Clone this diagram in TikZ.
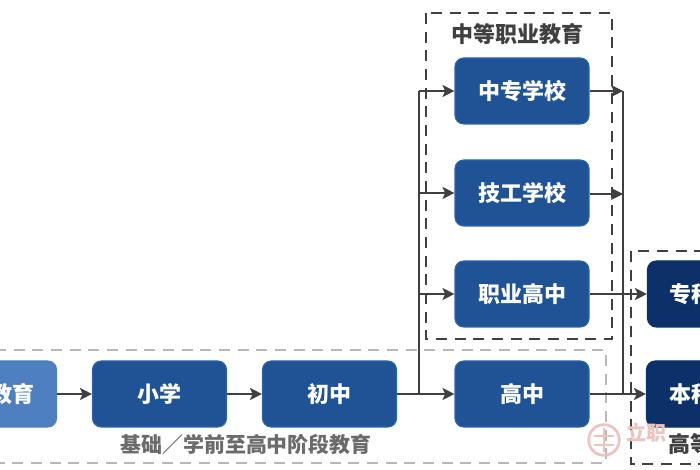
\documentclass[tikz,border=0pt]{standalone}
\usepackage{fontspec}
\setmainfont{Noto Sans CJK SC}
\usetikzlibrary{arrows.meta}
\definecolor{midblue}{HTML}{1F5396}
\definecolor{midedge}{HTML}{2E66AC}
\definecolor{darkblue}{HTML}{0C3168}
\definecolor{lightblue}{HTML}{4E80BF}
\definecolor{ink}{HTML}{404040}
\definecolor{sealpink}{HTML}{EBC4BF}
\tikzset{
  x=0.75pt,y=-0.75pt,
  schoolbox/.style={draw=midedge,line width=0.8pt,fill=midblue,rounded corners=6.5pt,minimum width=100.5pt,minimum height=49.5pt,inner sep=0pt,text=white,font=\bfseries\fontsize{16.5}{18}\selectfont},
  darkbox/.style={schoolbox,draw=darkblue,fill=darkblue},
  lightbox/.style={schoolbox,draw=lightblue,fill=lightblue},
  link/.style={draw=ink,line width=1.1pt},
  arrowlink/.style={link,-{Stealth[length=9pt,width=9pt,inset=2pt]}},
  blackdash/.style={draw=ink,line width=1.3pt,dash pattern=on 8.2pt off 5.8pt},
  greydash/.style={draw=black!28,line width=1pt,dash pattern=on 8.2pt off 5.8pt},
  grouplabel/.style={inner sep=0pt,font=\bfseries\fontsize{16.5}{18}\selectfont},
}
\begin{document}
\begin{tikzpicture}
\useasboundingbox (0,0) rectangle (700,470);
\clip (0,0) rectangle (700,470);
\fill[white] (0,0) rectangle (700,470);
% group frames
\draw[greydash] (-5,350) -- (606,350) -- (606,463) -- (-5,463);
\draw[blackdash] (426,13) rectangle (612,339);
\draw[blackdash] (780,251) -- (631,251) -- (631,464) -- (780,464);
% boxes
\node[lightbox] (pre) at (-10.5,394) {};
\node[inner sep=0pt,text=white,font=\bfseries\fontsize{16.5}{18}\selectfont] (pretext) at (12,394) {教育};
\node[schoolbox] (xiaoxue) at (159.5,394) {小学};
\node[schoolbox] (chuzhong) at (329.5,394) {初中};
\node[schoolbox] (gaozhong) at (522,394) {高中};
\node[schoolbox] (zhiye) at (522,294) {职业高中};
\node[schoolbox] (jigong) at (522,193) {技工学校};
\node[schoolbox] (zhongzhuan) at (522,91) {中专学校};
\node[darkbox] (zhuanke) at (714.5,294) {};
\node[darkbox] (benke) at (713.5,394) {};
\node[inner sep=0pt,anchor=west,text=white,font=\bfseries\fontsize{16.5}{18}\selectfont] (zhuantext) at (669,294) {专科};
\node[inner sep=0pt,anchor=west,text=white,font=\bfseries\fontsize{16.5}{18}\selectfont] (bentext) at (669,394) {本科};
% junctions
\coordinate (split) at (419,394);
\coordinate (splittop) at (419,91);
\coordinate (splitmid) at (419,193);
\coordinate (splitlow) at (419,294);
\coordinate (merge) at (623,394);
\coordinate (mergetop) at (623,91);
\coordinate (mergemid) at (623,194);
% connectors
\draw[arrowlink] (pre.east) -- (xiaoxue.west);
\draw[arrowlink] (xiaoxue.east) -- (chuzhong.west);
\draw[arrowlink] (chuzhong.east) -- (gaozhong.west);
\draw[link] (split) -- (splittop);
\draw[arrowlink] (splittop) -- (zhongzhuan.west);
\draw[arrowlink] (splitmid) -- (jigong.west);
\draw[arrowlink] (splitlow) -- (zhiye.west);
\draw[arrowlink] (zhongzhuan.east) -- (mergetop);
\draw[arrowlink] (jigong.east |- mergemid) -- (mergemid);
\draw[link] (mergetop) -- (merge);
\draw[arrowlink] (zhiye.east) -- (zhuanke.west);
\draw[arrowlink] (gaozhong.east) -- (benke.west);
% labels
\node[grouplabel,text=ink] (zhongdeng) at (517,34) {中等职业教育};
\node[inner sep=0pt,text=black!58,font=\bfseries\fontsize{15.7}{18}\selectfont] (jichu) at (246,444) {基础／学前至高中阶段教育};
% watermark
\draw[draw=sealpink,line width=2pt] (604,440) circle (11.5pt);
\draw[draw=sealpink,line width=1.6pt] (594,436) -- (614,436) (594,445) -- (614,445) (604,428) -- (604,452);
\node[inner sep=0pt,anchor=west,text=sealpink,font=\bfseries\fontsize{15}{16}\selectfont] (mark) at (626,433) {立职};
\node[grouplabel,anchor=west,text=ink] (gaodeng) at (668,444) {高等};
\end{tikzpicture}
\end{document}
